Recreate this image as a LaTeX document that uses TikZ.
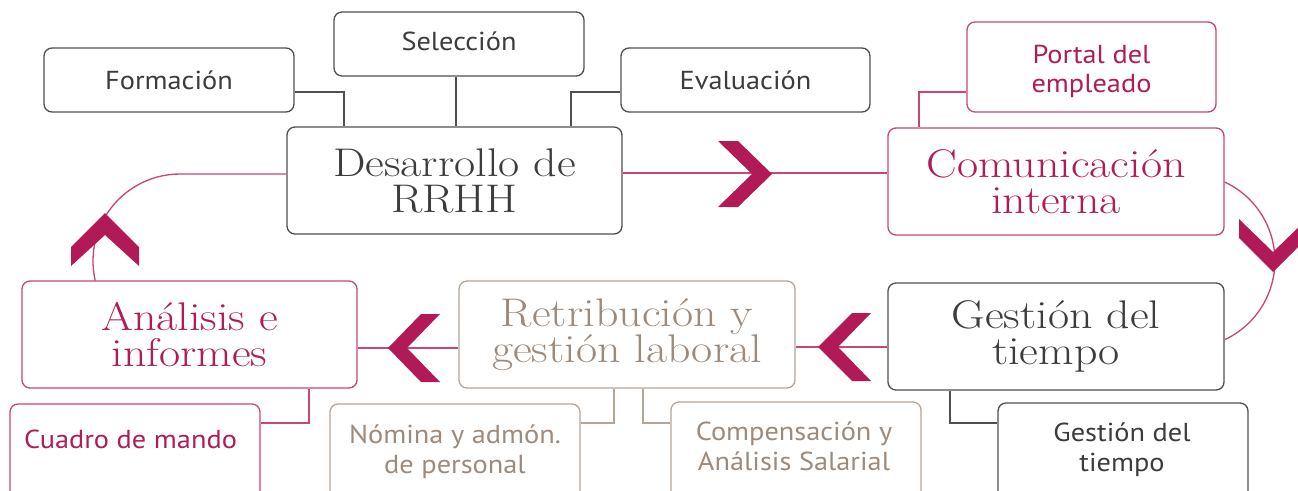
\documentclass[tikz,border=0pt]{standalone}
\usepackage{fontspec}
\newfontfamily\sansf{PT Sans}[FakeStretch=1.09]
\newfontfamily\bigf{lmroman17-regular.otf}[FakeStretch=1.15]
\definecolor{dtext}{HTML}{3C3C3C}
\definecolor{dline}{HTML}{505050}
\definecolor{mag}{HTML}{B01C58}
\definecolor{pline}{HTML}{C8457A}
\definecolor{tau}{HTML}{9C8A7C}
\definecolor{tline}{HTML}{B4A597}
\definecolor{chevc}{HTML}{B21A57}
\tikzset{
  place/.style n args={4}{at={({(#1+#3)/2},{(#2+#4)/2})}, minimum width={(#3-#1)*0.75pt}, minimum height={(#4-#2)*0.75pt}},
  box/.style={draw, rounded corners=6pt, inner sep=0pt, line width=1pt, align=center},
  bigbox/.style={box, font=\bigf\fontsize{30}{27}\selectfont},
  smallbox/.style={box, font=\sansf\fontsize{19.5}{21.8}\selectfont},
  grayc/.style={draw=dline, text=dtext},
  pinkc/.style={draw=pline, text=mag},
  taupec/.style={draw=tline, text=tau},
  gcon/.style={draw=dline, line width=0.9pt},
  pcon/.style={draw=pline, line width=1pt},
  tcon/.style={draw=tline, line width=0.9pt},
  chev/.style={fill=chevc, draw=none},
  stext/.style={font=\sansf\fontsize{19.5}{22.5}\selectfont, align=center, inner sep=0pt},
}
\begin{document}
\begin{tikzpicture}[x=0.75pt, y=-0.75pt]
\useasboundingbox (0,0) rectangle (1298,490);
\clip (0,0) rectangle (1298,490);

% boxes
\node[smallbox, grayc, place={44}{48}{294}{112}] (form) {Formación};
\node[smallbox, grayc, place={334}{12}{584}{76}] (sel) {\raisebox{-4.5pt}[0pt][0pt]{Selección}};
\node[smallbox, grayc, place={621}{48}{870}{112}] (eva) {Evaluación};
\node[bigbox, grayc, place={287}{127}{622}{234}] (des) {Desarrollo de\\RRHH};
\node[smallbox, pinkc, place={967}{22}{1216}{112}] (por) {\raisebox{3pt}[0pt][0pt]{\begin{tabular}[t]{@{}c@{}}Portal del\\empleado\end{tabular}}};
\node[bigbox, pinkc, place={888}{128}{1224}{235}] (com) {Comunicación\\interna};
\node[bigbox, pinkc, place={22}{281}{357}{388}] (ana) {Análisis e\\informes};
\node[bigbox, taupec, place={459}{281}{795}{388}] (ret) {Retribución y\\gestión laboral};
\node[bigbox, grayc, place={888}{283}{1224}{390}] (ges) {Gestión del\\tiempo};
\node[box, pinkc, place={10}{404}{260}{540}] (cua) {};
\node[box, taupec, place={330}{404}{580}{540}] (nom) {};
\node[box, taupec, place={671}{402}{921}{540}] (cmp) {};
\node[box, grayc, place={998}{403}{1248}{540}] (gsm) {};
\node[stext, text=mag, anchor=base] (cuat) at (130.5,448) {Cuadro de mando};
\node[stext, text=tau] (nomt) at (455,452) {Nómina y admón.\\de personal};
\node[stext, text=tau] (cmpt) at (794,446) {Compensación y\\Análisis Salarial};
\node[stext, text=dtext] (gsmt) at (1122,450) {Gestión del\\tiempo};

% branch connectors
\draw[gcon] (form.east |- 0,92) -| (des.north -| 344,0);
\draw[gcon] (sel.south -| 456,0) -- (des.north -| 456,0);
\draw[gcon] (eva.west |- 0,92) -| (des.north -| 571,0);
\draw[pcon] (por.west |- 0,92) -| (com.north -| 919,0);
\draw[pcon] (ana.south -| 309,0) |- (cua.east |- 0,423);
\draw[tcon] (ret.south -| 614,0) |- (nom.east |- 0,423);
\draw[tcon] (ret.south -| 643,0) |- (cmp.west |- 0,423);
\draw[gcon] (ges.south -| 950,0) |- (gsm.west |- 0,423);

% main flow
\draw[pcon] (des.east |- 0,173) -- (com.west |- 0,173);
\draw[pcon] (com.east |- 0,182) arc[start angle=-65, end angle=65, radius=87];
\draw[pcon] (ges.west |- 0,347) -- (ret.east |- 0,347);
\draw[pcon] (ret.west |- 0,348) -- (ana.east |- 0,348);
\draw[pcon] (des.west |- 0,174) -- (180,174) arc[start angle=-90, end angle=-193, radius=87];

% chevrons
\fill[chev] (718,141) -- (738,141) -- (772,174) -- (738,207) -- (718,207) -- (752,174) -- cycle;
\fill[chev] (1239,219) -- (1273,252) -- (1307,219) -- (1307,238) -- (1273,272) -- (1239,238) -- cycle;
\fill[chev] (871,313) -- (852,313) -- (818,347) -- (852,381) -- (871,381) -- (838,347) -- cycle;
\fill[chev] (440,314) -- (421,314) -- (388,348) -- (421,382) -- (440,382) -- (407,348) -- cycle;
\fill[chev] (71,247) -- (105,213) -- (139,247) -- (139,266) -- (105,235) -- (71,266) -- cycle;
\end{tikzpicture}
\end{document}
